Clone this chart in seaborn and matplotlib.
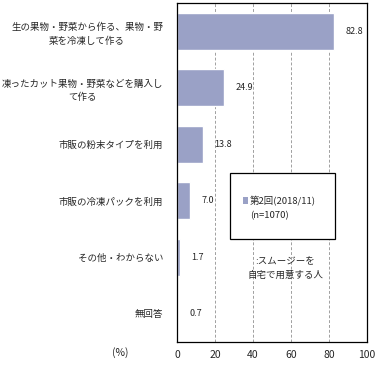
import pandas as pd
import seaborn as sns
import matplotlib.pyplot as plt
from matplotlib.patches import Rectangle

# Data
categories = ['生の果物・野菜から作る、果物・野\n菜を冷凍して作る',
              '凍ったカット果物・野菜などを購入し\nて作る',
              '市販の粉末タイプを利用',
              '市販の冷凍パックを利用',
              'その他・わからない',
              '無回答']
values = [82.8, 24.9, 13.8, 7.0, 1.7, 0.7]
xticks = [0, 20, 40, 60, 80, 100]
series_label = '第2回(2018/11)\n(n=1070)'
note = ':スムージーを\n自宅で用意する人'

df = pd.DataFrame({'category': categories, 'value': values})

sns.set_style('white')
plt.rcParams['font.family'] = ['Noto Sans CJK JP', 'DejaVu Sans']
bar_color = '#9aa1c6'

fig = plt.figure(figsize=(3.83, 3.69), dpi=100)
ax = fig.add_axes([0.462, 0.073, 0.496, 0.919])

sns.barplot(data=df, x='value', y='category', orient='h', color=bar_color,
            width=0.65, saturation=1, ax=ax)

# Value labels
for i, v in enumerate(values):
    ax.annotate(f'{v:.1f}', (v, i), xytext=(8, 0), textcoords='offset points',
                va='center', ha='left', fontsize=6.5)

ax.set_xlim(0, 100)
ax.set_ylim(len(categories) - 0.5, -0.5)
ax.set_xticks(xticks)
ax.set_xticklabels([str(t) for t in xticks], fontsize=7.5)
ax.set_yticks(range(len(categories)))
ax.set_yticklabels(categories, fontsize=6.8, linespacing=1.6,
                   multialignment='center')
ax.tick_params(axis='y', length=0, pad=10)
ax.tick_params(axis='x', length=0, pad=6)
ax.set_yticks([i + 0.5 for i in range(len(categories) - 1)], minor=True)
ax.tick_params(axis='y', which='minor', length=3, direction='in', width=0.8)
ax.set_xlabel('')
ax.set_ylabel('')

for t in xticks[1:-1]:
    ax.axvline(t, color='#a0a0a0', linestyle=(0, (3, 2)), linewidth=0.7, zorder=0)

for s in ax.spines.values():
    s.set_visible(True)
    s.set_color('black')
    s.set_linewidth(0.9)

# Legend box
ax.add_patch(Rectangle((28, 2.51), 55, 1.17, facecolor='white',
                       edgecolor='black', linewidth=0.9, zorder=3))
ax.add_patch(Rectangle((35, 2.93), 2.2, 0.12, facecolor=bar_color,
                       edgecolor='none', zorder=4))
ax.text(38.5, 3.0, '第2回(2018/11)', fontsize=6.8, va='center', ha='left', zorder=4)
ax.text(38.5, 3.27, '(n=1070)', fontsize=6.8, va='center', ha='left', zorder=4)
ax.text(57, 4.2, note, fontsize=6.8, va='center', ha='center', zorder=4,
        linespacing=1.6)

fig.text(0.315, 0.045, '(%)', fontsize=7.5, ha='center', va='center')

fig.savefig('out.png', dpi=100)
